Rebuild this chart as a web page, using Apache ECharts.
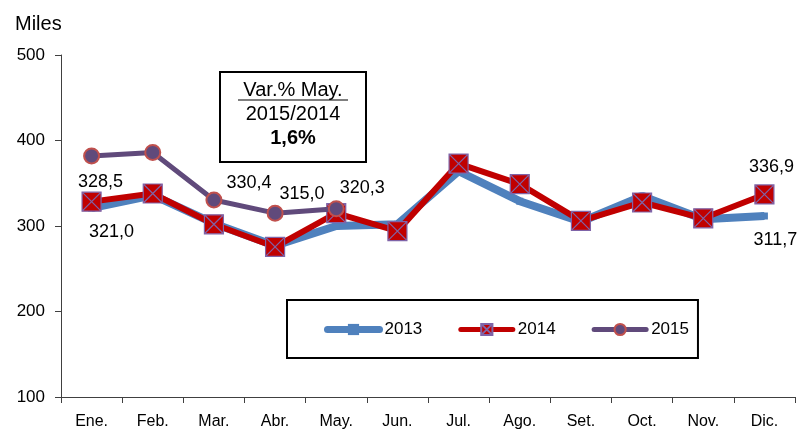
<!DOCTYPE html>
<html>
<head>
<meta charset="utf-8">
<script src="https://cdn.jsdelivr.net/npm/echarts@6/dist/echarts.min.js"></script>
<style>
  html, body { margin: 0; padding: 0; background: #fff; }
  #chart { width: 800px; height: 430px; }
</style>
</head>
<body>
<div id="chart"></div>
<script>
// Months on the x axis
var months = ['Ene.', 'Feb.', 'Mar.', 'Abr.', 'May.', 'Jun.', 'Jul.', 'Ago.', 'Set.', 'Oct.', 'Nov.', 'Dic.'];

// Values per year (thousands)
var values2013 = [321.0, 336, 303, 277, 300, 302, 364, 329, 305, 335, 308, 311.7];
var values2014 = [328.5, 338, 302, 275.5, 315, 294, 373, 349, 306, 327.5, 309, 336.9];
var values2015 = [382, 386, 330.4, 315.0, 320.3];

// Y axis ticks
var yMin = 100, yMax = 500, yStep = 100;

var font = 'Liberation Sans, Arial, sans-serif';

function fmt(v) {
    return v.toFixed(1).replace('.', ',');
}

// Attach a label to a single point, centred at an offset from it
function labelled(v, dx, dy) {
    return {
        value: v,
        label: {
            show: true,
            position: 'inside',
            offset: [dx, dy],
            formatter: fmt(v),
            color: '#000',
            fontSize: 18,
            fontFamily: font
        }
    };
}

var data2013 = values2013.map(function (v) { return v; });
data2013[0] = labelled(values2013[0], 20, 24);
data2013[11] = labelled(values2013[11], 11, 24);

var data2014 = values2014.map(function (v) { return v; });
data2014[0] = labelled(values2014[0], 9, -20);
data2014[11] = labelled(values2014[11], 7, -27);

var data2015 = values2015.map(function (v) { return v; });
data2015[2] = labelled(values2015[2], 35, -17);
data2015[3] = labelled(values2015[3], 27, -19);
data2015[4] = labelled(values2015[4], 26, -21);

var myChart = echarts.init(document.getElementById('chart'));

var option = {
    animation: false,
    backgroundColor: '#fff',
    title: {
        text: 'Miles',
        left: 10,
        top: 9,
        textStyle: { fontSize: 20, fontWeight: 'normal', color: '#000', fontFamily: font }
    },
    grid: { left: 61, right: 5, top: 55, bottom: 32 },
    legend: {
        data: [
            { name: '2013', lineStyle: { width: 7, cap: 'round' } },
            { name: '2014', lineStyle: { width: 5, cap: 'round' } },
            { name: '2015', lineStyle: { width: 5, cap: 'round' } }
        ],
        left: 287,
        top: 300,
        padding: [21, 9, 20, 37],
        itemGap: 36,
        itemWidth: 52,
        itemHeight: 14,
        borderColor: '#000',
        borderWidth: 2,
        textStyle: { fontSize: 17, color: '#000', fontFamily: font }
    },
    xAxis: {
        type: 'category',
        data: months,
        boundaryGap: true,
        axisLine: { lineStyle: { color: '#404040', width: 1 } },
        axisTick: { show: true, length: 6, lineStyle: { color: '#404040' } },
        axisLabel: { fontSize: 16, color: '#000', margin: 17, fontFamily: font, interval: 0 },
        splitLine: { show: false }
    },
    yAxis: {
        type: 'value',
        min: yMin,
        max: yMax,
        interval: yStep,
        axisLine: { show: true, lineStyle: { color: '#404040', width: 1 } },
        axisTick: { show: true, length: 6, lineStyle: { color: '#404040' } },
        axisLabel: { fontSize: 17, color: '#000', margin: 16, fontFamily: font },
        splitLine: { show: false }
    },
    series: [
        {
            name: '2013',
            type: 'line',
            data: data2013,
            z: 2,
            symbol: 'rect',
            symbolSize: 7,
            showAllSymbol: true,
            lineStyle: { color: '#4F81BD', width: 8 },
            itemStyle: { color: '#4F81BD' }
        },
        {
            name: '2014',
            type: 'line',
            data: data2014,
            z: 3,
            symbol: 'path://M0 0H10V10H0Z M0 0L10 10 M10 0L0 10',
            symbolSize: 19,
            showAllSymbol: true,
            lineStyle: { color: '#C00000', width: 6 },
            itemStyle: { color: '#C00000', borderColor: '#7F64A8', borderWidth: 1.2 }
        },
        {
            name: '2015',
            type: 'line',
            data: data2015,
            z: 4,
            symbol: 'circle',
            symbolSize: 15,
            showAllSymbol: true,
            lineStyle: { color: '#604A7B', width: 5 },
            itemStyle: { color: '#604A7B', borderColor: '#C0504D', borderWidth: 2 }
        }
    ],
    graphic: [
        {
            type: 'group',
            left: 219,
            top: 71,
            children: [
                {
                    type: 'rect',
                    shape: { x: 0, y: 0, width: 146, height: 90 },
                    style: { fill: '#fff', stroke: '#000', lineWidth: 2 }
                },
                {
                    type: 'text',
                    x: 73, y: 18,
                    style: { text: 'Var.% May.', fontSize: 20, fontFamily: font, fill: '#000', align: 'center', verticalAlign: 'middle' }
                },
                {
                    type: 'line',
                    shape: { x1: 18, y1: 28, x2: 128, y2: 28 },
                    style: { stroke: '#000', lineWidth: 1.2 }
                },
                {
                    type: 'text',
                    x: 73, y: 42,
                    style: { text: '2015/2014', fontSize: 20, fontFamily: font, fill: '#000', align: 'center', verticalAlign: 'middle' }
                },
                {
                    type: 'text',
                    x: 73, y: 66,
                    style: { text: '1,6%', fontSize: 20, fontWeight: 'bold', fontFamily: font, fill: '#000', align: 'center', verticalAlign: 'middle' }
                }
            ]
        }
    ]
};

myChart.setOption(option);
</script>
</body>
</html>
